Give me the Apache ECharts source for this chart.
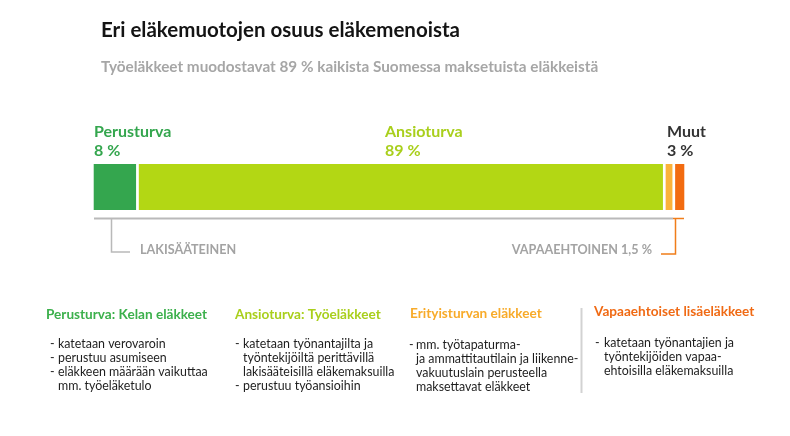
<!DOCTYPE html>
<html>
<head>
<meta charset="utf-8">
<script src="https://cdn.jsdelivr.net/npm/echarts@6/dist/echarts.min.js"></script>
<style>html,body{margin:0;padding:0;background:#fff}#c{width:790px;height:436px}</style>
</head>
<body>
<div id="c"></div>
<script>
// ---- data ----
const segmentNames = ['Perusturva', 'Ansioturva', 'Erityisturva', 'Vapaaehtoiset'];
const segmentValues = [7.6, 88.8, 1.6, 2.0];
const segmentColors = ['#34a64e', '#b3d714', '#fbb23a', '#f26b10'];
const topLabels = ['Perusturva', 'Ansioturva', 'Muut'];
const topPercents = ['8 %', '89 %', '3 %'];
const bracketLabels = ['LAKISÄÄTEINEN', 'VAPAAEHTOINEN 1,5 %'];
const colHeaders = ['Perusturva: Kelan eläkkeet', 'Ansioturva: Työeläkkeet', 'Erityisturvan eläkkeet', 'Vapaaehtoiset lisäeläkkeet'];
const colItems = [
  [['katetaan verovaroin'], ['perustuu asumiseen'], ['eläkkeen määrään vaikuttaa', 'mm. työeläketulo']],
  [['katetaan työnantajilta ja', 'työntekijöiltä perittävillä', 'lakisääteisillä eläkemaksuilla'], ['perustuu työansioihin']],
  [['mm. työtapaturma-', 'ja ammattitautilain ja liikenne-', 'vakuutuslain perusteella', 'maksettavat eläkkeet']],
  [['katetaan työnantajien ja', 'työntekijöiden vapaa-', 'ehtoisilla eläkemaksuilla']]
];
const headerColors = ['#3cb04c', '#a9cf1c', '#f8ab2a', '#f06a14'];

const total = segmentValues.reduce((a, b) => a + b, 0);
const chart = echarts.init(document.getElementById('c'));
const FONT = 'Lato';

const series = segmentValues.map((v, i) => ({
  name: segmentNames[i],
  type: 'bar',
  stack: 'all',
  barWidth: 48.7,
  data: [v],
  itemStyle: { color: segmentColors[i], borderColor: '#ffffff', borderWidth: 1.35 },
  silent: true
}));

const g = [];
function txt(x, y, text, font, fill, extra) {
  g.push(Object.assign({ type: 'text', silent: true, style: Object.assign({ x, y, text, font, fill, textVerticalAlign: 'middle', textAlign: 'left' }, extra || {}) }));
}
function line(x1, y1, x2, y2, stroke, w) {
  g.push({ type: 'line', silent: true, shape: { x1, y1, x2, y2 }, style: { stroke, lineWidth: w } });
}
function poly(points, stroke, w) {
  g.push({ type: 'polyline', silent: true, shape: { points }, style: { stroke, lineWidth: w, fill: null } });
}

// title
txt(101, 30, 'Eri eläkemuotojen osuus eläkemenoista', '700 20.5px ' + FONT, '#141414');
txt(101, 67, 'Työeläkkeet muodostavat 89 % kaikista Suomessa maksetuista eläkkeistä', '700 15.3px ' + FONT, '#a6a6a6');

// top labels
const topX = [94, 385, 667];
const topCol = ['#34a64e', '#a9cf1c', '#333333'];
topLabels.forEach((t, i) => {
  txt(topX[i], 132, t, '700 16px ' + FONT, topCol[i]);
  txt(topX[i], 151, topPercents[i], '700 16px ' + FONT, topCol[i]);
});

// baseline and brackets
line(94, 218.5, 673, 218.5, '#b9b9b9', 2);
poly([[111.5, 218], [111.5, 252], [130, 252]], '#b9b9b9', 1.5);
poly([[673, 218.5], [675.5, 218.5], [684, 218.5]], '#f07d1a', 1.5);
poly([[675.5, 218.5], [675.5, 254], [661, 254]], '#f07d1a', 1.5);
txt(140, 250, bracketLabels[0], '700 12.6px ' + FONT, '#a3a3a3');
txt(652, 250, bracketLabels[1], '700 12.6px ' + FONT, '#a3a3a3', { textAlign: 'right' });

// divider
line(581.5, 308, 581.5, 393, '#d2d2d2', 2);

// columns
const headX = [46, 235, 410, 594];
const colDash = [50, 235, 409, 595];
const colText = [58, 243, 416, 604];
const headY = [315, 315, 314, 312];
const bodyY0 = [344, 344, 345, 343];
colHeaders.forEach((h, i) => {
  txt(headX[i], headY[i], h, '700 13.6px ' + FONT, headerColors[i]);
  let y = bodyY0[i];
  colItems[i].forEach(item => {
    item.forEach((l, j) => {
      if (j === 0) txt(colDash[i], y, '-', '400 12.4px ' + FONT, '#1e1e1e');
      txt(colText[i], y, l, '400 12.4px ' + FONT, '#1e1e1e');
      y += 14;
    });
  });
});

chart.setOption({
  animation: false,
  backgroundColor: '#ffffff',
  grid: { left: 92.35, top: 160, width: 593.3, height: 54, containLabel: false },
  xAxis: { type: 'value', min: 0, max: total, show: false },
  yAxis: { type: 'category', data: ['osuus'], show: false },
  series,
  graphic: g
});
</script>
</body>
</html>
